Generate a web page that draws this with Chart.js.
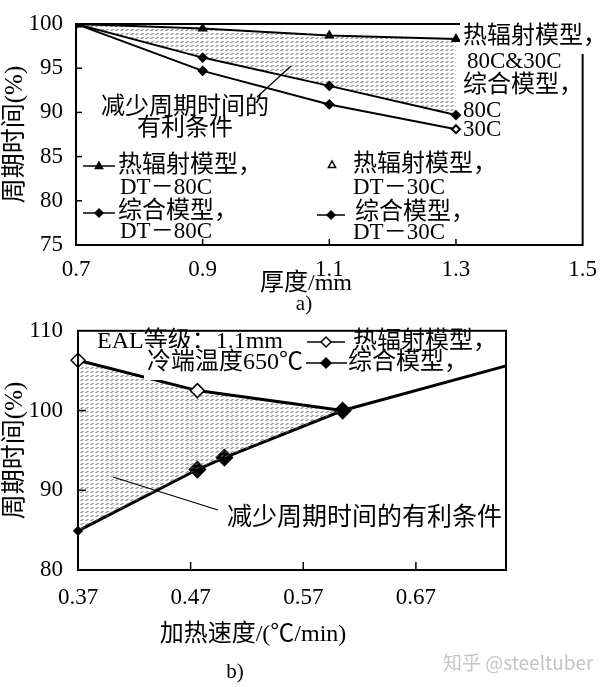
<!DOCTYPE html>
<html>
<head>
<meta charset="utf-8">
<script src="https://cdn.jsdelivr.net/npm/chart.js@4.4.1/dist/chart.umd.min.js"></script>
<style>
  body { margin: 0; background: #fff; }
  #wrap { position: relative; width: 600px; height: 687px; overflow: hidden; }
  canvas { position: absolute; left: 0; }
  #chartA { top: 0; z-index: 2; }
  #chartB { top: 310px; z-index: 1; }
</style>
</head>
<body>
<div id="wrap">
  <canvas id="chartA" width="600" height="320"></canvas>
  <canvas id="chartB" width="600" height="377"></canvas>
</div>
<script>
// a) cycle time vs sheet thickness
const thicknessA = [0.7, 0.9, 1.1, 1.3];
const radiationA = [100, 99.5, 98.7, 98.3];   // radiation model, 80C & 30C
const combined80A = [100, 96.2, 93.0, 89.7];  // combined model, DT-80C
const combined30A = [100, 94.7, 90.9, 88.1];  // combined model, DT-30C
const xTicksA = [0.7, 0.9, 1.1, 1.3, 1.5];
const yTicksA = [75, 80, 85, 90, 95, 100];

// b) cycle time vs heating rate
const rateRadiationB = [0.37, 0.476, 0.605];
const radiationB = [106.3, 102.5, 100.0];
const rateCombinedB = [0.37, 0.476, 0.500, 0.605, 0.75];
const combinedB = [84.9, 92.6, 94.1, 100.0, 105.6];
const xTicksB = [0.37, 0.47, 0.57, 0.67];
const yTicksB = [80, 90, 100, 110];

const FAMILY = '"Liberation Serif", "Noto Sans CJK SC", serif';
const font = (size) => ({ family: FAMILY, size: size, lineHeight: 1.2 });

const pts = (xs, ys) => xs.map((x, i) => ({ x: x, y: ys[i] }));

// grey stipple used for the "favourable" region
function hatch() {
    const c = document.createElement('canvas');
    c.width = 5;
    c.height = 4;
    const g = c.getContext('2d');
    g.strokeStyle = '#666';
    g.lineWidth = 1;
    g.beginPath();
    g.moveTo(0.5, 2.5);
    g.lineTo(3.5, 1.5);
    g.stroke();
    return g.createPattern(c, 'repeat');
}

function marker(ctx, style, x, y, r, filled) {
    ctx.beginPath();
    if (style === 'triangle') {
        ctx.moveTo(x, y - r);
        ctx.lineTo(x + r * 0.9, y + r * 0.6);
        ctx.lineTo(x - r * 0.9, y + r * 0.6);
    } else {
        ctx.moveTo(x, y - r);
        ctx.lineTo(x + r, y);
        ctx.lineTo(x, y + r);
        ctx.lineTo(x - r, y);
    }
    ctx.closePath();
    ctx.fillStyle = filled ? '#000' : '#fff';
    ctx.fill();
    ctx.lineWidth = 1.5;
    ctx.strokeStyle = '#000';
    ctx.stroke();
}

// frame, inward ticks and the hand-placed labels of the figure
function decor(cfg) {
    return {
        id: 'decor',
        afterDraw(chart) {
            const ctx = chart.ctx;
            const a = chart.chartArea;
            ctx.save();
            ctx.strokeStyle = '#000';
            ctx.lineWidth = 2;
            ctx.strokeRect(a.left, a.top, a.right - a.left, a.bottom - a.top);

            ctx.lineWidth = 1.5;
            chart.scales.x.ticks.forEach((t) => {
                if (t.value <= chart.scales.x.min || t.value >= chart.scales.x.max) return;
                const px = chart.scales.x.getPixelForValue(t.value);
                ctx.beginPath();
                ctx.moveTo(px, a.bottom);
                ctx.lineTo(px, a.bottom - cfg.tick);
                ctx.stroke();
            });
            chart.scales.y.ticks.forEach((t) => {
                if (t.value <= chart.scales.y.min || t.value >= chart.scales.y.max) return;
                const py = chart.scales.y.getPixelForValue(t.value);
                ctx.beginPath();
                ctx.moveTo(a.left, py);
                ctx.lineTo(a.left + cfg.tick, py);
                ctx.stroke();
            });

            cfg.lines.forEach((l) => {
                ctx.beginPath();
                ctx.lineWidth = l.w || 1.5;
                ctx.moveTo(l.x1, l.y1);
                ctx.lineTo(l.x2, l.y2);
                ctx.stroke();
                if (l.mark) marker(ctx, l.mark, (l.x1 + l.x2) / 2, l.y1, l.r || 4, l.filled);
            });
            cfg.marks.forEach((m) => marker(ctx, m.style, m.x, m.y, m.r, m.filled));

            ctx.textBaseline = 'middle';
            cfg.texts.forEach((t) => {
                ctx.font = (t.size || 22) + 'px ' + (t.family || FAMILY);
                ctx.textAlign = t.align || 'left';
                if (t.bg) {
                    const w = ctx.measureText(t.text).width;
                    const x0 = t.align === 'center' ? t.x - w / 2 : t.x;
                    ctx.fillStyle = '#fff';
                    ctx.fillRect(x0 - 3, t.y - t.size / 2 - 3, w + 6, t.size + 8);
                }
                ctx.fillStyle = t.color || '#000';
                ctx.fillText(t.text, t.x, t.y);
            });
            ctx.restore();
        }
    };
}

const pattern = hatch();

new Chart(document.getElementById('chartA'), {
    type: 'line',
    data: {
        datasets: [
            {
                label: '热辐射模型，80C&30C',
                data: pts(thicknessA, radiationA),
                borderColor: '#000',
                borderWidth: 2,
                pointStyle: 'triangle',
                pointRadius: [5, 4, 4, 4],
                pointBackgroundColor: '#000',
                pointBorderColor: '#000',
                fill: false
            },
            {
                label: '综合模型，DT-80C',
                data: pts(thicknessA, combined80A),
                borderColor: '#000',
                borderWidth: 2,
                pointStyle: 'rectRot',
                pointRadius: 4,
                pointBackgroundColor: '#000',
                pointBorderColor: '#000',
                fill: { target: 0 },
                backgroundColor: pattern
            },
            {
                label: '综合模型，DT-30C',
                data: pts(thicknessA, combined30A),
                borderColor: '#000',
                borderWidth: 2,
                pointStyle: 'rectRot',
                pointRadius: 4,
                pointBackgroundColor: ['#000', '#000', '#000', '#fff'],
                pointBorderColor: '#000',
                fill: false
            }
        ]
    },
    options: {
        responsive: false,
        animation: false,
        layout: { padding: { top: 24, right: 17, bottom: 23, left: 0 } },
        plugins: { legend: { display: false }, tooltip: { enabled: false } },
        scales: {
            x: {
                type: 'linear',
                bounds: 'data',
                min: 0.7,
                max: 1.5,
                afterBuildTicks: (s) => { s.ticks = xTicksA.map((v) => ({ value: v })); },
                afterFit: (s) => { s.height = 52; },
                grid: { display: false },
                border: { display: false },
                ticks: { padding: 3, color: '#000', font: font(23), maxRotation: 0,
                          callback: (v) => v.toFixed(1) }
            },
            y: {
                min: 75,
                max: 100,
                afterBuildTicks: (s) => { s.ticks = yTicksA.map((v) => ({ value: v })); },
                afterFit: (s) => { s.width = 76; },
                grid: { display: false },
                border: { display: false },
                ticks: { padding: 5, color: '#000', font: font(23) },
                title: { display: true, text: '周期时间(%)', color: '#000', font: font(25),
                         padding: { top: 0, bottom: 0 } }
            }
        }
    },
    plugins: [decor({
        tick: 6,
        lines: [
            { x1: 257, y1: 97, x2: 291, y2: 66, w: 1.2 },
            { x1: 83, y1: 166, x2: 115, y2: 166, mark: 'triangle', filled: true },
            { x1: 83, y1: 213, x2: 115, y2: 213, mark: 'diamond', filled: true },
            { x1: 317, y1: 215, x2: 345, y2: 215, mark: 'diamond', filled: true }
        ],
        marks: [
            { style: 'triangle', x: 332, y: 165, r: 4, filled: false }
        ],
        texts: [
            { text: '减少周期时间的', x: 185, y: 108, size: 24, align: 'center' },
            { text: '有利条件', x: 185, y: 129, size: 24, align: 'center' },
            { text: '热辐射模型，', x: 118, y: 166, size: 24 },
            { text: 'DT－80C', x: 120, y: 188, size: 23 },
            { text: '综合模型，', x: 118, y: 212, size: 24 },
            { text: 'DT－80C', x: 120, y: 232, size: 23 },
            { text: '热辐射模型，', x: 353, y: 165, size: 24 },
            { text: 'DT－30C', x: 353, y: 188, size: 23 },
            { text: '综合模型，', x: 355, y: 213, size: 24 },
            { text: 'DT－30C', x: 353, y: 233, size: 23 },
            { text: '热辐射模型，', x: 463, y: 37, size: 24, bg: true },
            { text: '80C&30C', x: 467, y: 62, size: 23 },
            { text: '综合模型，', x: 463, y: 86, size: 24 },
            { text: '80C', x: 463, y: 111, size: 23 },
            { text: '30C', x: 463, y: 130, size: 23 },
            { text: '厚度/mm', x: 306, y: 284, size: 24, align: 'center' },
            { text: 'a)', x: 304, y: 304, size: 21, align: 'center' }
        ]
    })]
});

new Chart(document.getElementById('chartB'), {
    type: 'line',
    data: {
        datasets: [
            {
                label: '热辐射模型',
                data: pts(rateRadiationB, radiationB),
                borderColor: '#000',
                borderWidth: 3,
                pointStyle: 'rectRot',
                pointRadius: [7, 7, 0],
                pointBorderWidth: 1.5,
                pointBackgroundColor: '#fff',
                pointBorderColor: '#000',
                fill: { target: 1 },
                backgroundColor: pattern
            },
            {
                label: '综合模型',
                data: pts(rateCombinedB, combinedB),
                borderColor: '#000',
                borderWidth: 3,
                pointStyle: 'rectRot',
                pointRadius: [3, 7, 7, 7, 0],
                pointBackgroundColor: '#000',
                pointBorderColor: '#000',
                fill: false
            }
        ]
    },
    options: {
        responsive: false,
        animation: false,
        clip: false,
        layout: { padding: { top: 15, right: 94, bottom: 39, left: 0 } },
        plugins: { legend: { display: false }, tooltip: { enabled: false } },
        scales: {
            x: {
                type: 'linear',
                bounds: 'data',
                min: 0.37,
                max: 0.75,
                afterBuildTicks: (s) => { s.ticks = xTicksB.map((v) => ({ value: v })); },
                afterFit: (s) => { s.height = 78; },
                grid: { display: false },
                border: { display: false },
                ticks: { padding: 6, color: '#000', font: font(23), maxRotation: 0,
                          callback: (v) => v.toFixed(2) }
            },
            y: {
                min: 80,
                max: 110,
                afterBuildTicks: (s) => { s.ticks = yTicksB.map((v) => ({ value: v })); },
                afterFit: (s) => { s.width = 78; },
                grid: { display: false },
                border: { display: false },
                ticks: { padding: 7, color: '#000', font: font(23) },
                title: { display: true, text: '周期时间(%)', color: '#000', font: font(25),
                         padding: { top: 0, bottom: 0 } }
            }
        }
    },
    plugins: [decor({
        tick: 8,
        lines: [
            { x1: 113, y1: 167, x2: 218, y2: 200, w: 1.2 },
            { x1: 307, y1: 32, x2: 345, y2: 32, mark: 'diamond', filled: false, r: 5 },
            { x1: 305, y1: 53, x2: 347, y2: 53, mark: 'diamond', filled: true, r: 5 }
        ],
        marks: [],
        texts: [
            { text: 'EAL等级：1.1mm', x: 97, y: 32, size: 24 },
            { text: '冷端温度650℃', x: 147, y: 53, size: 24, bg: true },
            { text: '热辐射模型，', x: 353, y: 32, size: 24 },
            { text: '综合模型，', x: 348, y: 53, size: 24 },
            { text: '减少周期时间的有利条件', x: 227, y: 208, size: 25 },
            { text: '加热速度/(℃/min)', x: 253, y: 325, size: 24, align: 'center' },
            { text: 'b)', x: 235, y: 362, size: 21, align: 'center' },
            { text: '知乎 @steeltuber', x: 443, y: 353, size: 19, color: '#c4c4c4',
              family: '"Noto Sans CJK SC", sans-serif' }
        ]
    })]
});
</script>
</body>
</html>
